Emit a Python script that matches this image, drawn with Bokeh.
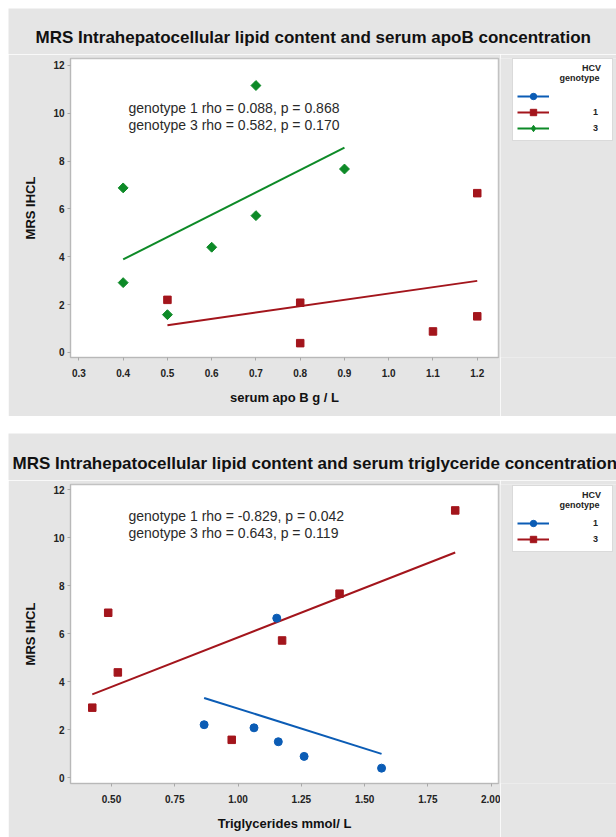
import numpy as np
from bokeh.plotting import figure
from bokeh.models import Legend, LegendItem, Label, FixedTicker, Range1d, Spacer
from bokeh.layouts import column, row
from bokeh.embed import file_html
from bokeh.resources import INLINE
from bokeh.core.properties import value

# ---------------- data ----------------
# Chart 1: serum apoB vs MRS IHCL
apob_g1 = [0.5, 0.8, 0.8, 1.1, 1.2, 1.2]
ihcl_apob_g1 = [2.20, 2.08, 0.39, 0.88, 6.66, 1.51]
apob_g3 = [0.4, 0.4, 0.5, 0.6, 0.7, 0.7, 0.9]
ihcl_apob_g3 = [6.88, 2.92, 1.58, 4.40, 5.72, 11.16, 7.67]

# Chart 2: triglycerides vs MRS IHCL
tg_g1 = [0.866, 1.063, 1.153, 1.159, 1.261, 1.567]
ihcl_tg_g1 = [2.21, 2.08, 6.65, 1.50, 0.89, 0.40]
tg_g3 = [0.424, 0.487, 0.525, 0.975, 1.174, 1.401, 1.858]
ihcl_tg_g3 = [2.92, 6.875, 4.39, 1.58, 5.72, 7.67, 11.14]

apob_ticks = [0.3, 0.4, 0.5, 0.6, 0.7, 0.8, 0.9, 1.0, 1.1, 1.2]
apob_tick_labels = ["0.3", "0.4", "0.5", "0.6", "0.7", "0.8", "0.9", "1.0", "1.1", "1.2"]
tg_ticks = [0.5, 0.75, 1.0, 1.25, 1.5, 1.75, 2.0]
tg_tick_labels = ["0.50", "0.75", "1.00", "1.25", "1.50", "1.75", "2.00"]
ihcl_ticks = [0, 2, 4, 6, 8, 10, 12]

titles = ["MRS Intrahepatocellular lipid content and serum apoB concentration",
          "MRS Intrahepatocellular lipid content and serum triglyceride concentration"]
x_labels = ["serum apo B g / L", "Triglycerides mmol/ L"]
y_label = "MRS IHCL"
stats_apob = ["genotype 1 rho = 0.088, p = 0.868", "genotype 3 rho = 0.582, p = 0.170"]
stats_tg = ["genotype 1 rho = -0.829, p = 0.042", "genotype 3 rho = 0.643,  p = 0.119"]
legend_header = ["HCV", "genotype"]

# ---------------- style ----------------
PANEL = "#e5e5e5"
BLUE = "#0b5cb5"
RED = "#a3151c"
GREEN = "#0d8a27"
FONT = "Liberation Sans"
NBSP = "\u00a0"


def fit_line(x, y):
    x = np.asarray(x, dtype=float)
    y = np.asarray(y, dtype=float)
    m, b = np.polyfit(x, y, 1)
    xs = np.array([x.min(), x.max()])
    return xs, m * xs + b


def plain_fig(width, height):
    p = figure(width=width, height=height, x_range=Range1d(0, 1), y_range=Range1d(0, 1),
               x_axis_type=None, y_axis_type=None, output_backend="svg",
               toolbar_location=None, min_border=0)
    p.background_fill_color = PANEL
    p.border_fill_color = PANEL
    p.outline_line_color = None
    p.xgrid.visible = False
    p.ygrid.visible = False
    return p


def title_fig(text, height, x, y):
    p = plain_fig(608, height)
    p.add_layout(Label(x=x, y=y, x_units="screen", y_units="screen", text=text,
                       text_font=FONT, text_font_style="bold", text_font_size="17px",
                       text_color="#111111", text_baseline="alphabetic"))
    return p


def main_fig(xlabel, xr, yr, xticks, xtick_labels, height, border_bottom):
    p = figure(width=492, height=height, x_range=Range1d(*xr), y_range=Range1d(*yr),
               output_backend="svg", toolbar_location=None,
               min_border_left=62, min_border_right=2,
               min_border_top=4, min_border_bottom=border_bottom)
    p.background_fill_color = "white"
    p.border_fill_color = PANEL
    p.outline_line_color = "#c2c2c2"
    p.outline_line_width = 1.5
    p.xgrid.visible = False
    p.ygrid.visible = False

    p.xaxis.ticker = FixedTicker(ticks=xticks)
    p.xaxis.major_label_overrides = {t: l for t, l in zip(xticks, xtick_labels)}
    p.yaxis.ticker = FixedTicker(ticks=ihcl_ticks)
    p.xaxis.axis_label = xlabel
    p.yaxis.axis_label = y_label
    for ax in (p.xaxis[0], p.yaxis[0]):
        ax.axis_line_color = "#b8b8b8"
        ax.major_tick_line_color = "#a8a8a8"
        ax.major_tick_out = 3
        ax.major_tick_in = 0
        ax.minor_tick_line_color = None
        ax.major_label_text_font = FONT
        ax.major_label_text_font_style = "bold"
        ax.major_label_text_font_size = "10px"
        ax.major_label_text_color = "#222222"
        ax.axis_label_text_font = FONT
        ax.axis_label_text_font_style = "bold"
        ax.axis_label_text_font_size = "13px"
        ax.axis_label_text_color = "#111111"
    p.xaxis.major_label_standoff = 8
    p.xaxis.axis_label_standoff = 10
    p.yaxis.major_label_standoff = 3
    p.yaxis.axis_label_standoff = 12
    return p


def add_stats(p, lines, y_top):
    for i, t in enumerate(lines):
        p.add_layout(Label(x=58, y=y_top - 17 * i, x_units="screen", y_units="screen",
                           text=t, text_font=FONT, text_font_size="14px",
                           text_color="#2a2a2a", text_baseline="middle"))


def legend_fig(height, entries, y_bottom):
    """entries: list of (label, colour, marker)"""
    p = plain_fig(116, height)
    items = []
    for lab, col, mk in entries:
        ln = p.line([np.nan], [np.nan], line_color=col, line_width=2)
        sc = p.scatter([np.nan], [np.nan], marker=mk, size=8, fill_color=col, line_color=col)
        items.append(LegendItem(label=value(lab), renderers=[ln, sc]))
    header = NBSP * 26 + legend_header[0] + "\n" + NBSP * 17 + legend_header[1]
    leg = Legend(items=items, location=(12, y_bottom), orientation="vertical",
                 title=header, title_text_font=FONT, title_text_font_style="bold",
                 title_text_font_size="9px", title_text_line_height=1.35,
                 title_text_color="#222222", title_standoff=5,
                 padding=4, spacing=-2, glyph_width=32, glyph_height=16,
                 label_standoff=44, label_width=15, label_height=12,
                 label_text_font=FONT, label_text_font_style="bold",
                 label_text_font_size="9px", label_text_color="#222222",
                 border_line_color="#b5b5b5", border_line_width=1,
                 background_fill_color="white", background_fill_alpha=1.0,
                 margin=0)
    p.add_layout(leg, "center")
    return p


# ---------------- chart 1 ----------------
t1f = title_fig(titles[0], 46, 27, 17)
p1 = main_fig(x_labels[0], (0.281, 1.248), (-0.21, 12.29),
              apob_ticks, apob_tick_labels, 362, 59)
xs, ys = fit_line(apob_g1, ihcl_apob_g1)
p1.line(xs, ys, line_color=RED, line_width=2)
xs, ys = fit_line(apob_g3, ihcl_apob_g3)
p1.line(xs, ys, line_color=GREEN, line_width=2)
p1.scatter(apob_g1, ihcl_apob_g1, marker="square", size=7.5, fill_color=RED, line_color=RED)
p1.scatter(apob_g3, ihcl_apob_g3, marker="square", angle=np.pi / 4, size=7,
           fill_color=GREEN, line_color=GREEN)
add_stats(p1, stats_apob, 250)
l1f = legend_fig(362, [(" ", BLUE, "circle"), ("1", RED, "square"), ("3", GREEN, "diamond")], 216)

# ---------------- chart 2 ----------------
t2f = title_fig(titles[1], 47, 4, 17)
p2 = main_fig(x_labels[1], (0.338, 2.029), (-0.24, 12.22),
              tg_ticks, tg_tick_labels, 357, 54)
xs, ys = fit_line(tg_g3, ihcl_tg_g3)
p2.line(xs, ys, line_color=RED, line_width=2)
xs, ys = fit_line(tg_g1, ihcl_tg_g1)
p2.line(xs, ys, line_color=BLUE, line_width=2)
p2.scatter(tg_g3, ihcl_tg_g3, marker="square", size=7.5, fill_color=RED, line_color=RED)
p2.scatter(tg_g1, ihcl_tg_g1, marker="circle", size=8, fill_color=BLUE, line_color=BLUE)
add_stats(p2, stats_tg, 268)
l2f = legend_fig(357, [("1", BLUE, "circle"), ("3", RED, "square")], 231)

layout = column(Spacer(height=8),
                t1f, row(p1, l1f, spacing=0),
                Spacer(height=17),
                t2f, row(p2, l2f, spacing=0),
                spacing=0, margin=(0, 0, 0, 8))
open("out.html", "w").write(file_html(layout, INLINE))
